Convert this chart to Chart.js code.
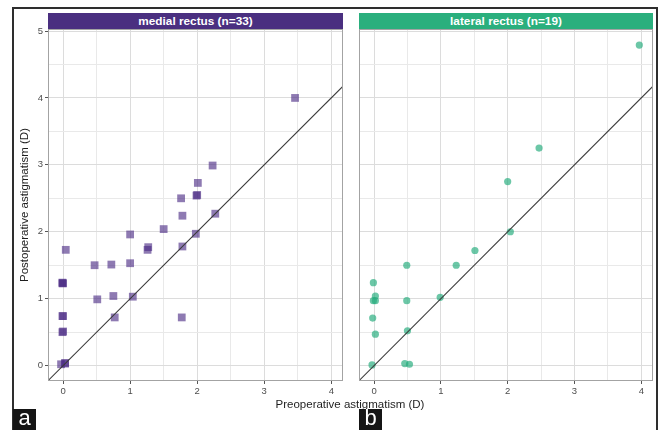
<!DOCTYPE html>
<html>
<head>
<meta charset="utf-8">
<script src="https://cdn.jsdelivr.net/npm/chart.js@4/dist/chart.umd.min.js"></script>
<style>
  html, body { margin: 0; padding: 0; background: #fff; }
  body { width: 659px; height: 430px; position: relative; overflow: hidden;
         font-family: "Liberation Sans", Arial, sans-serif; }
  canvas { position: absolute; left: 0; top: 0; }
  .frame { position: absolute; left: 12px; top: 7px; width: 642px; height: 440px;
           border: 2px solid #2e2e2e; border-bottom: none; }
  .strip { position: absolute; top: 13px; height: 16px; line-height: 16px; color: #fff;
           font-weight: bold; font-size: 11.8px; text-align: center; }
  .axis-title { position: absolute; color: #1e1e1e; font-size: 11.5px; white-space: nowrap; }
  .tag { position: absolute; top: 409px; width: 23px; height: 21px; background: #151515;
         color: #fff; font-size: 22px; line-height: 18px; text-align: center; }
</style>
</head>
<body>
<div class="frame"></div>
<canvas id="medial" width="659" height="430"></canvas>
<canvas id="lateral" width="659" height="430"></canvas>
<div class="strip" style="left:48px;width:295px;background:#4a2f80;">medial rectus (n=33)</div>
<div class="strip" style="left:359px;width:294px;background:#2aaf7d;">lateral rectus (n=19)</div>
<div class="axis-title" style="left:24px;top:205px;transform:translate(-50%,-50%) rotate(-90deg);">Postoperative astigmatism (D)</div>
<div class="axis-title" style="left:350px;top:404px;transform:translate(-50%,-50%);">Preoperative astigmatism (D)</div>
<div class="tag" style="left:13px;">a</div>
<div class="tag" style="left:359px;">b</div>
<script>
// Preoperative vs postoperative astigmatism (D), per operated muscle
const medialPre  = [3.46, 2.23, 2.01, 1.99, 2.00, 1.76, 1.78, 2.27, 1.00, 1.50, 1.98,
                    0.04, 1.26, 1.27, 1.78, 0.47, 0.72, 1.00, -0.01, -0.01, 0.00,
                    0.51, 0.75, 1.04, 0.77, 1.77, -0.01, 0.00, -0.01, 0.00, -0.03, 0.03, 0.03];
const medialPost = [4.00, 2.99, 2.73, 2.54, 2.55, 2.50, 2.24, 2.27, 1.96, 2.04, 1.97,
                    1.73, 1.73, 1.77, 1.78, 1.50, 1.51, 1.53, 1.23, 1.24, 1.23,
                    0.99, 1.04, 1.03, 0.72, 0.72, 0.74, 0.74, 0.50, 0.51, 0.02, 0.04, 0.03];

const lateralPre  = [3.97, 2.47, 2.00, 2.04, 1.51, 1.23, 0.49, -0.01, 0.02, -0.01,
                     0.02, 0.49, 0.99, -0.02, 0.02, 0.50, -0.03, 0.46, 0.53];
const lateralPost = [4.79, 3.25, 2.75, 2.00, 1.72, 1.50, 1.50, 1.24, 1.04, 0.97,
                     0.97, 0.97, 1.02, 0.71, 0.47, 0.52, 0.01, 0.03, 0.02];

const xTickLabels = [0, 1, 2, 3, 4];
const yTickLabels = [0, 1, 2, 3, 4, 5];
const xRange = [-0.225, 4.175];
const yRange = [-0.23, 5.03];

// major ticks plus a minor gridline halfway between each pair
function withMinor(labels) {
  const out = [];
  labels.forEach((v, i) => {
    out.push(v);
    if (i < labels.length - 1) out.push((v + labels[i + 1]) / 2);
  });
  return out;
}
const xGrid = withMinor(xTickLabels);
const yGrid = withMinor(yTickLabels);

const toPoints = (xs, ys) => xs.map((x, i) => ({ x: x, y: ys[i] }));

const panelBorder = {
  id: 'panelBorder',
  afterDraw(chart) {
    const a = chart.chartArea, ctx = chart.ctx;
    ctx.save();
    ctx.strokeStyle = '#a3a3a3';
    ctx.lineWidth = 1;
    ctx.strokeRect(Math.round(a.left) + 0.5, Math.round(a.top) + 0.5,
                   Math.round(a.right - a.left) - 1, Math.round(a.bottom - a.top) - 1);
    ctx.restore();
  }
};

function scaleOptions(gridValues, labels, range, showLabels, fitSize, horizontal) {
  return {
    type: 'linear',
    min: range[0],
    max: range[1],
    afterBuildTicks: s => { s.ticks = gridValues.map(v => ({ value: v })); },
    afterFit: s => { if (horizontal) s.height = fitSize; else s.width = fitSize; },
    border: { display: false },
    grid: {
      color: c => (c.tick && labels.includes(c.tick.value)) ? '#dcdcdc' : '#e9e9e9',
      lineWidth: 1,
      drawTicks: showLabels,
      tickLength: 3,
      tickColor: c => (c.tick && labels.includes(c.tick.value)) ? '#555' : 'rgba(0,0,0,0)'
    },
    ticks: {
      display: showLabels,
      autoSkip: false,
      maxRotation: 0,
      padding: 2,
      color: '#4d4d4d',
      font: { family: '"Liberation Sans", Arial, sans-serif', size: 9.5 },
      callback: v => labels.includes(v) ? String(v) : ''
    }
  };
}

function makePanel(id, points, color, style, radius, padding, showY) {
  return new Chart(document.getElementById(id), {
    type: 'scatter',
    data: {
      datasets: [
        {
          // identity line: postoperative = preoperative
          data: [{ x: xRange[0], y: xRange[0] }, { x: xRange[1], y: xRange[1] }],
          showLine: true,
          borderColor: '#3a3a3a',
          borderWidth: 1.1,
          pointRadius: 0,
          order: 0
        },
        {
          data: points,
          pointStyle: style,
          pointRadius: radius,
          pointBackgroundColor: color,
          pointBorderWidth: 0,
          order: 1
        }
      ]
    },
    options: {
      responsive: false,
      animation: false,
      events: [],
      layout: { padding: padding },
      plugins: { legend: { display: false }, tooltip: { enabled: false } },
      scales: {
        x: scaleOptions(xGrid, xTickLabels, xRange, true, 15, true),
        y: scaleOptions(yGrid, yTickLabels, yRange, showY, showY ? 15 : 0, false)
      }
    },
    plugins: [panelBorder]
  });
}

makePanel('medial', toPoints(medialPre, medialPost), 'rgba(72,40,130,0.62)', 'rect', 5.5,
          { left: 33, right: 316, top: 29, bottom: 34 }, true);
makePanel('lateral', toPoints(lateralPre, lateralPost), 'rgba(38,172,125,0.68)', 'circle', 3.6,
          { left: 359, right: 6, top: 29, bottom: 34 }, false);
</script>
</body>
</html>
